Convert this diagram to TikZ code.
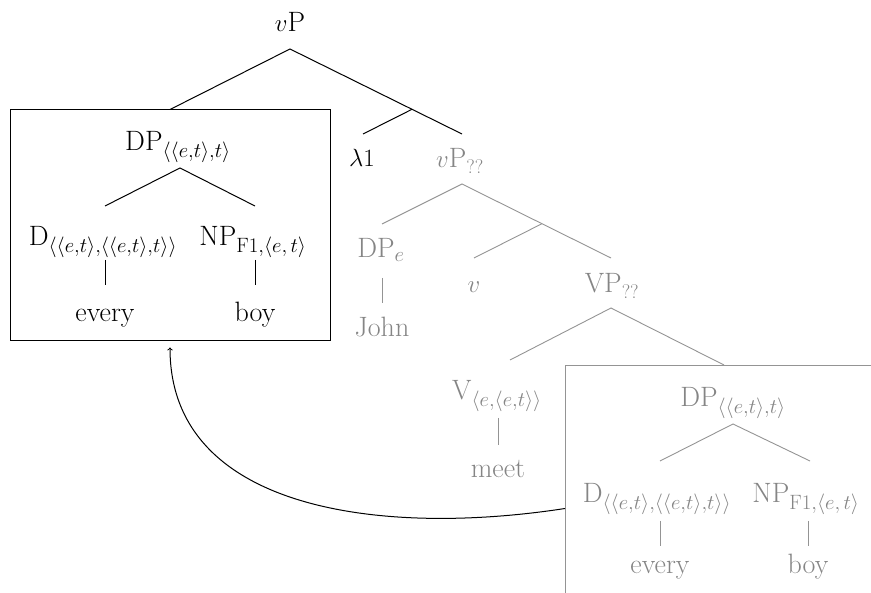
\documentclass[tikz,border=0pt]{standalone}
\usepackage{amsmath}
\definecolor{fade}{gray}{0.52}
\definecolor{fadeline}{gray}{0.58}
\begin{document}
\begin{tikzpicture}[x=1pt,y=-1pt,
  lab/.style={font=\fontsize{28}{32}\selectfont, inner sep=0pt, anchor=base},
  gl/.style={lab, text=fade},
  br/.style={line width=1pt},
  gbr/.style={line width=0.9pt, draw=fadeline},
  box/.style={draw, line width=1pt, inner sep=0pt}]
\useasboundingbox (0,0) rectangle (871,593);

% boxes
\node[box, minimum width=320pt, minimum height=231pt] (box1) at (170,225.5) {};
\node[box, draw=fadeline, minimum width=330pt, minimum height=286pt, anchor=north west] (box2) at (565,365) {};

% black labels
\node[lab] (vP) at (290,32) {$v$P};
\node[lab] (DP1) at (178,151) {DP$_{\langle\langle e,t\rangle,t\rangle}$};
\node[lab] (D1) at (103,246) {D$_{\langle\langle e,t\rangle,\langle\langle e,t\rangle,t\rangle\rangle}$};
\node[lab] (NP1) at (253,246) {NP$_{\mathrm{F1},\langle e,\,t\rangle}$};
\node[lab] (every1) at (105,322) {every};
\node[lab] (boy1) at (255,322) {boy};
\node[lab] (lam) at (362,167) {$\lambda 1$};

% grey labels
\node[gl] (vPq) at (460,168) {$v$P$_{\text{??}}$};
\node[gl] (DPe) at (381,258) {DP$_e$};
\node[gl] (v) at (474,293) {$v$};
\node[gl] (VPq) at (612,293) {VP$_{\text{??}}$};
\node[gl] (John) at (382,337) {John};
\node[gl] (V) at (497,400) {V$_{\langle e,\langle e,t\rangle\rangle}$};
\node[gl] (meet) at (498,478) {meet};
\node[gl] (DP2) at (733,407) {DP$_{\langle\langle e,t\rangle,t\rangle}$};
\node[gl] (D2) at (657,503) {D$_{\langle\langle e,t\rangle,\langle\langle e,t\rangle,t\rangle\rangle}$};
\node[gl] (NP2) at (806,503) {NP$_{\mathrm{F1},\langle e,\,t\rangle}$};
\node[gl] (every2) at (660,573) {every};
\node[gl] (boy2) at (808,573) {boy};

% branch coordinates
\coordinate (vPb) at (290,49);
\coordinate (barb) at (412,109.3);
\coordinate (barL) at (462,134);
\coordinate (lamT) at (363,134);
\coordinate (DP1b) at (180,168);
\coordinate (D1t) at (105,206);
\coordinate (NP1t) at (255,206);
\coordinate (D1b) at (105,260);
\coordinate (every1t) at (105,285);
\coordinate (NP1b) at (255,260);
\coordinate (boy1t) at (255,285);

\coordinate (vPqb) at (462,184);
\coordinate (DPet) at (382,224);
\coordinate (VPqt) at (611,258);
\coordinate (vbarb) at (542,223.7);
\coordinate (vt) at (474,258);
\coordinate (DPeb) at (382,278);
\coordinate (Johnt) at (382,303);
\coordinate (VPqb) at (611,308);
\coordinate (Vt) at (510,360);
\coordinate (DP2t) at (724,365);
\coordinate (Vb) at (498,418);
\coordinate (meett) at (498,445);
\coordinate (DP2b) at (733,424);
\coordinate (D2t) at (660,461);
\coordinate (NP2t) at (810,461);
\coordinate (D2b) at (660,521);
\coordinate (every2t) at (660,546);
\coordinate (NP2b) at (808,521);
\coordinate (boy2t) at (808,546);

% black branches
\draw[br] (box1.north) -- (vPb) -- (barL);
\draw[br] (barb) -- (lamT);
\draw[br] (D1t) -- (DP1b) -- (NP1t);
\draw[br] (D1b) -- (every1t);
\draw[br] (NP1b) -- (boy1t);

% grey branches
\draw[gbr] (DPet) -- (vPqb) -- (VPqt);
\draw[gbr] (vbarb) -- (vt);
\draw[gbr] (DPeb) -- (Johnt);
\draw[gbr] (Vt) -- (VPqb) -- (DP2t);
\draw[gbr] (Vb) -- (meett);
\draw[gbr] (D2t) -- (DP2b) -- (NP2t);
\draw[gbr] (D2b) -- (every2t);
\draw[gbr] (NP2b) -- (boy2t);

% movement arrow
\draw[br, ->, shorten >=6pt] (box2.west) .. controls (380,537) and (170,510) .. (box1.south);
\end{tikzpicture}
\end{document}
